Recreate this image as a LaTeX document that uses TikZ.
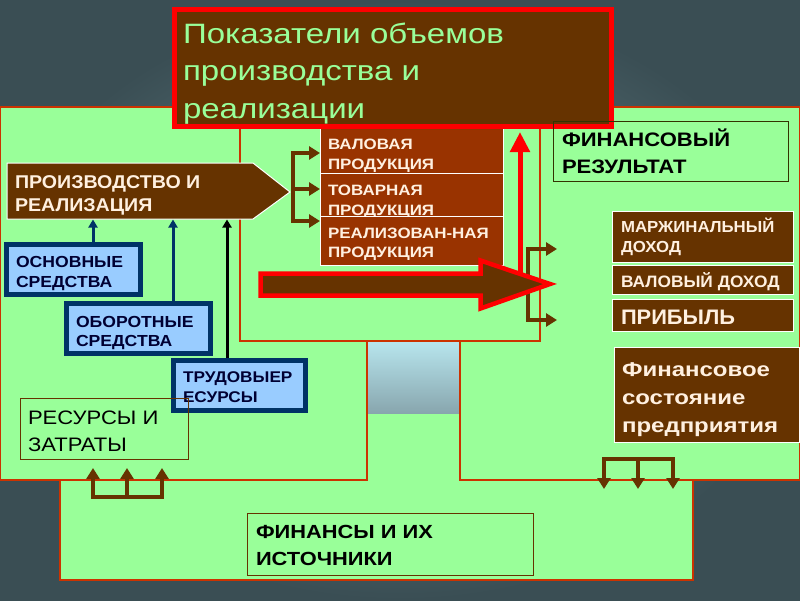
\documentclass[tikz,border=0pt]{standalone}
\usepackage{fontspec}
\usepackage{graphicx}
\setmainfont{Liberation Sans}
\usetikzlibrary{arrows.meta}
\definecolor{pgreen}{HTML}{99FF99}
\definecolor{brn}{HTML}{663300}
\definecolor{rbrn}{HTML}{993300}
\definecolor{pred}{HTML}{CC3300}
\definecolor{navy}{HTML}{003366}
\definecolor{navytext}{HTML}{000033}
\definecolor{lblue}{HTML}{99CCFF}
\definecolor{cream}{HTML}{FFF0E0}
\definecolor{bgdark}{HTML}{3A4E54}
\definecolor{bglight}{HTML}{6E8B90}
\definecolor{skytop}{HTML}{B8E6EE}
\definecolor{skybot}{HTML}{88A6AE}
\definecolor{olive}{HTML}{333300}
\newcommand\tbox[4]{\vbox to #2pt{\hsize=#1pt\offinterlineskip\kern#3pt #4\vss}}
\newcommand\tline[3]{\hbox to \hsize{\hskip#1pt\smash{\scalebox{#2}[1]{#3}}\hss}}
\tikzset{
  panel/.style={fill=pgreen, draw=pred, line width=1.2pt},
  tbx/.style={inner sep=0pt, anchor=center},
  titlebox/.style={tbx, fill=brn, draw=red, line width=5pt, text=pgreen, font=\fontsize{28}{34}\selectfont},
  midbox/.style={tbx, fill=rbrn, draw=white, line width=1pt, text=cream, font=\fontsize{15}{19}\selectfont\bfseries},
  rbox/.style={tbx, fill=brn, draw=white, line width=0.8pt, text=cream, font=\fontsize{16}{20}\selectfont\bfseries},
  bluebox/.style={tbx, fill=lblue, draw=navy, line width=5pt, text=navytext, font=\fontsize{16}{20}\selectfont\bfseries},
  thinbox/.style={tbx, draw=brn, line width=1pt, text=black, font=\fontsize{19.5}{24}\selectfont},
  brownln/.style={draw=brn, line width=4pt, line join=miter, -{Triangle[length=11pt,width=13pt]}},
  bluearrow/.style={draw=navy, line width=3pt, -{Triangle[length=8pt,width=9pt]}},
  blackarrow/.style={draw=black, line width=3pt, -{Triangle[length=8pt,width=9pt]}},
  redarrow/.style={draw=red, line width=5pt, -{Triangle[length=20pt,width=19pt]}},
}
\begin{document}
\begin{tikzpicture}[x=1pt,y=-1pt]
\useasboundingbox (0,0) rectangle (800,600);
% background
\shade[inner color=bglight, outer color=bgdark] (0,0) rectangle (800,600);
% panels
\draw[panel] (60,413) rectangle (693,580);
\shade[top color=skytop, bottom color=skybot] (367,341) rectangle (460,413);
\draw[panel] (0,107) rectangle (367,480);
\draw[panel] (460,107) rectangle (800,480);
\draw[panel] (240,115) rectangle (540,341);
% production arrow shape
\draw[fill=brn, draw=white, line width=1pt] (7,163) -- (253,163) -- (290,192) -- (253,219) -- (7,219) -- cycle;
\node[tbx, text=cream, font=\fontsize{18.5}{23}\selectfont\bfseries] (prod) at (130,191)
  {\tbox{246}{56}{25}{\tline{8}{1.06}{ПРОИЗВОДСТВО И}\kern23pt\tline{8}{1.06}{РЕАЛИЗАЦИЯ}}};
% middle boxes
\node[midbox] (val) at (411.75,146.5)
  {\tbox{182.5}{53}{29}{\tline{7.5}{1.13}{ВАЛОВАЯ}\kern20pt\tline{7.5}{1.13}{ПРОДУКЦИЯ}}};
\node[midbox] (tov) at (411.75,194.5)
  {\tbox{182.5}{43}{22}{\tline{7.5}{1.13}{ТОВАРНАЯ}\kern20pt\tline{7.5}{1.13}{ПРОДУКЦИЯ}}};
\node[midbox] (real) at (411.75,240.5)
  {\tbox{182.5}{49}{22}{\tline{7.5}{1.13}{РЕАЛИЗОВАН-НАЯ}\kern19pt\tline{7.5}{1.13}{ПРОДУКЦИЯ}}};
% title
\node[titlebox] (title) at (393,68)
  {\tbox{437}{117}{33.5}{\tline{8.5}{1.18}{Показатели объемов}\kern37.5pt\tline{8.5}{1.18}{производства и}\kern37.5pt\tline{8.5}{1.18}{реализации}}};
% bracket from production
\coordinate (bk1) at (293,153);
\coordinate (bk2) at (293,189);
\coordinate (bk3) at (293,221);
\draw[brownln] (bk2) -- (bk1) -- (bk1 -| val.west);
\draw[brownln] (bk2) -- (bk2 -| tov.west);
\draw[brownln] (bk2) -- (bk3) -- (bk3 -| real.west);
% red up arrow
\coordinate (redbot) at (520,284);
\draw[redarrow, shorten >=3pt] (redbot) -- (redbot |- title.south);
% right bracket
\coordinate (rb1) at (528,249);
\coordinate (rb2) at (528,284);
\coordinate (rb3) at (528,320);
\coordinate (rt1) at (557,249);
\coordinate (rt3) at (557,320);
\draw[brownln] (rb2) -- (rb1) -- (rt1);
\draw[brownln] (rb2) -- (rb3) -- (rt3);
% big arrow
\draw[draw=red, fill=brn, line width=4.5pt, line join=miter]
  (260.5,273.5) -- (480.5,273.5) -- (480.5,260.5) -- (550,284) -- (480.5,308.5) -- (480.5,295.5) -- (260.5,295.5) -- cycle;
% right side
\node[thinbox, draw=olive, font=\fontsize{19.5}{24}\selectfont\bfseries] (finrez) at (670.5,151)
  {\tbox{235}{60}{25}{\tline{9}{1.13}{ФИНАНСОВЫЙ}\kern27pt\tline{9}{1.13}{РЕЗУЛЬТАТ}}};
\node[rbox] (marg) at (702.5,236.5)
  {\tbox{181}{51}{21}{\tline{9}{1.05}{МАРЖИНАЛЬНЫЙ}\kern20pt\tline{9}{1.05}{ДОХОД}}};
\node[rbox, font=\fontsize{16.5}{20}\selectfont\bfseries] (valdoh) at (702.5,279.5)
  {\tbox{181}{29}{22}{\tline{9}{1.05}{ВАЛОВЫЙ ДОХОД}}};
\node[rbox, font=\fontsize{21}{25}\selectfont\bfseries] (prib) at (702.5,315)
  {\tbox{181}{32}{25}{\tline{9}{1.04}{ПРИБЫЛЬ}}};
\node[rbox, font=\fontsize{20}{28}\selectfont\bfseries] (finsost) at (706.75,394.5)
  {\tbox{185.5}{95}{29}{\tline{8}{1.2}{Финансовое}\kern28pt\tline{8}{1.2}{состояние}\kern28pt\tline{8}{1.2}{предприятия}}};
% resources
\node[bluebox] (osn) at (73.5,269.5)
  {\tbox{134}{50}{22.5}{\tline{9.5}{1.1}{ОСНОВНЫЕ}\kern20pt\tline{9.5}{1.1}{СРЕДСТВА}}};
\node[bluebox] (obor) at (138.5,328.5)
  {\tbox{144}{50}{23.5}{\tline{9.5}{1.1}{ОБОРОТНЫЕ}\kern19pt\tline{9.5}{1.1}{СРЕДСТВА}}};
\node[bluebox, font=\fontsize{15.5}{20}\selectfont\bfseries] (trud) at (239.5,385.5)
  {\tbox{132}{50}{21.5}{\tline{9.5}{1.11}{ТРУДОВЫЕР}\kern20pt\tline{9.5}{1.11}{ЕСУРСЫ}}};
\coordinate (ax1) at (93,219.5);
\coordinate (ax2) at (173,219.5);
\coordinate (ax3) at (227,219.5);
\draw[bluearrow] (osn.north -| ax1) -- (ax1);
\draw[bluearrow] (obor.north -| ax2) -- (ax2);
\draw[blackarrow] (trud.north -| ax3) -- (ax3);
\node[thinbox] (res) at (104,428.5)
  {\tbox{168}{61}{26}{\tline{8}{1.13}{РЕСУРСЫ И}\kern27pt\tline{8}{1.13}{ЗАТРАТЫ}}};
% bottom-left bracket
\coordinate (bl1) at (93,497);
\coordinate (bl2) at (127,497);
\coordinate (bl3) at (162,497);
\draw[brownln, shorten >=8.5pt] (bl2) -- (bl1) -- (bl1 |- res.south);
\draw[brownln, shorten >=8.5pt] (bl2) -- (bl2 |- res.south);
\draw[brownln, shorten >=8.5pt] (bl2) -- (bl3) -- (bl3 |- res.south);
% finances
\node[thinbox, font=\fontsize{19}{24}\selectfont\bfseries] (finans) at (390,544)
  {\tbox{286}{62}{25}{\tline{9}{1.15}{ФИНАНСЫ И ИХ}\kern27pt\tline{9}{1.15}{ИСТОЧНИКИ}}};
% bottom-right bracket
\coordinate (br1) at (604,459);
\coordinate (br2) at (638,459);
\coordinate (br3) at (673,459);
\coordinate (bt1) at (604,489);
\coordinate (bt2) at (638,489);
\coordinate (bt3) at (673,489);
\draw[brownln] (br2) -- (br1) -- (bt1);
\draw[brownln] (br2) -- (bt2);
\draw[brownln] (br2) -- (br3) -- (bt3);
\end{tikzpicture}
\end{document}
